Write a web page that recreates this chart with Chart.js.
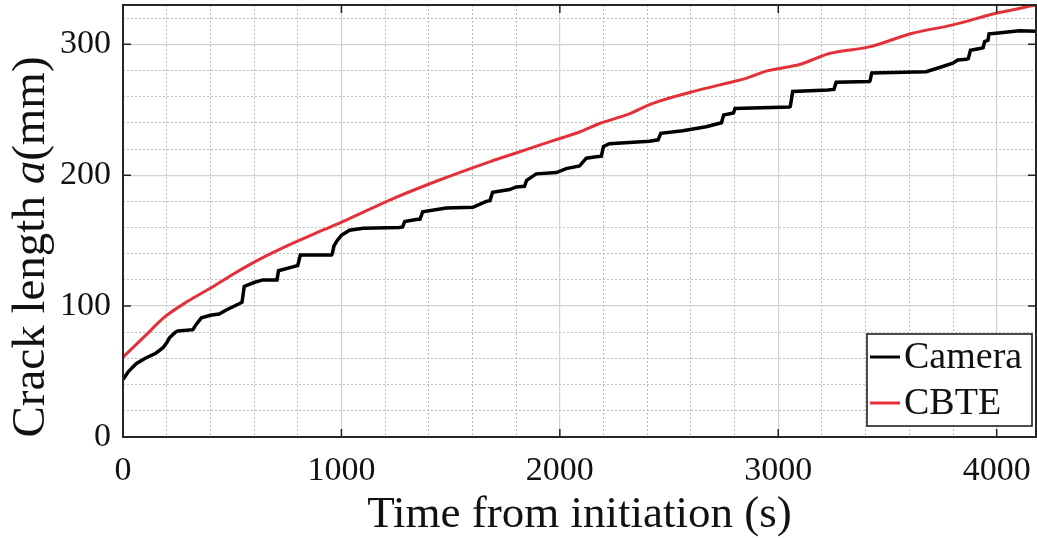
<!DOCTYPE html>
<html>
<head>
<meta charset="utf-8">
<script src="https://cdn.jsdelivr.net/npm/chart.js@4"></script>
<style>
  html, body { margin: 0; padding: 0; background: #fff; }
  #wrap { width: 1037px; height: 538px; position: relative; }
</style>
</head>
<body>
<div id="wrap"><canvas id="crack"></canvas></div>
<script>
// values
const cameraTime = [0, 25, 60, 100, 150, 182, 200, 214, 240, 251, 320, 335, 359, 400, 440, 473, 534, 545, 555, 600, 640, 705, 712, 777, 800, 812, 954, 958, 966, 980, 1000, 1037, 1100, 1266, 1280, 1290, 1335, 1360, 1372, 1480, 1602, 1663, 1680, 1692, 1770, 1800, 1838, 1848, 1892, 1984, 2029, 2090, 2121, 2167, 2190, 2200, 2227, 2410, 2450, 2462, 2563, 2670, 2740, 2750, 2795, 2802, 3051, 3055, 3066, 3227, 3255, 3265, 3417, 3420, 3428, 3677, 3753, 3799, 3822, 3860, 3870, 3880, 3929, 3938, 3945, 3960, 3965, 3997, 4104, 4180];
const cameraLength = [44, 50, 56, 60, 64, 68, 72, 76, 80, 81, 82, 86, 91, 93, 94, 97, 102, 103, 115, 118, 120, 120, 127, 130, 131, 139, 139, 140, 146, 150, 154, 158, 159.5, 160, 160.5, 164.5, 166, 166.5, 172, 175, 175.5, 180, 180.5, 187, 189, 191, 191.5, 196, 201, 202, 205, 207, 213, 214, 214.5, 222, 224, 226, 227, 232, 234, 237, 240, 246, 247.5, 251, 252, 252.5, 264, 265, 265.5, 271, 271.5, 272, 278, 279, 283, 285.5, 288, 288.5, 289, 295.5, 297, 297.5, 302, 303, 308, 308.5, 310.4, 310];

const cbteTime = [0, 50, 100, 191, 300, 397, 500, 603, 700, 809, 900, 1022, 1221, 1449, 1678, 1816, 1907, 2000, 2090, 2182, 2304, 2426, 2609, 2792, 2853, 2945, 3005, 3097, 3234, 3417, 3615, 3799, 3997, 4180];
const cbteLength = [61, 69, 77, 91.7, 104, 113.4, 124, 133.8, 142, 150.4, 157, 165.7, 181, 196.3, 210.2, 217.9, 223, 228, 233, 239.5, 246, 254.9, 263.8, 271.4, 274, 279.5, 281.5, 284.5, 293, 298, 308.4, 314.8, 323.7, 330];

const seriesNames = ['Camera', 'CBTE'];
const seriesColors = ['#000000', '#e3313a'];

const xTicks = [0, 1000, 2000, 3000, 4000];
const yTicks = [0, 100, 200, 300];
const xMinorTicks = [200, 400, 600, 800, 1200, 1400, 1600, 1800, 2200, 2400, 2600, 2800, 3200, 3400, 3600, 3800, 4200];
const yMinorTicks = [20, 40, 60, 80, 120, 140, 160, 180, 220, 240, 260, 280, 320];

const xMax = 4180;
const yMax = 330;

const serif = '"Liberation Serif", "DejaVu Serif", serif';

function pairs(xs, ys) {
  return xs.map((x, i) => ({ x: x, y: ys[i] }));
}

function setTicks(list) {
  return s => { s.ticks = list.map(v => ({ value: v })); };
}

function noPad(s) {
  s.paddingLeft = 0; s.paddingRight = 0; s.paddingTop = 0; s.paddingBottom = 0;
}

// frame, inward ticks, titles and boxed legend (Matlab look)
const decor = {
  id: 'decor',
  afterDraw(chart) {
    const ctx = chart.ctx;
    const a = chart.chartArea;
    const xs = chart.scales.x;
    const ys = chart.scales.y;
    ctx.save();

    // inward ticks on all four sides
    ctx.strokeStyle = '#222';
    ctx.lineWidth = 1.5;
    ctx.beginPath();
    xs.ticks.forEach(t => {
      const px = xs.getPixelForValue(t.value);
      ctx.moveTo(px, a.bottom); ctx.lineTo(px, a.bottom - 8);
      ctx.moveTo(px, a.top); ctx.lineTo(px, a.top + 8);
    });
    ys.ticks.forEach(t => {
      const py = ys.getPixelForValue(t.value);
      ctx.moveTo(a.left, py); ctx.lineTo(a.left + 8, py);
      ctx.moveTo(a.right, py); ctx.lineTo(a.right - 8, py);
    });
    ctx.stroke();

    // box
    ctx.lineWidth = 2;
    ctx.strokeStyle = '#262626';
    ctx.strokeRect(a.left, a.top, a.right - a.left, a.bottom - a.top);

    // x title
    ctx.fillStyle = '#111';
    ctx.font = '45px ' + serif;
    ctx.textAlign = 'center';
    ctx.textBaseline = 'alphabetic';
    ctx.fillText('Time from initiation (s)', (a.left + a.right) / 2, 527);

    // y title, with italic a
    ctx.translate(44, 247);
    ctx.rotate(-Math.PI / 2);
    const parts = [
      ['Crack length ', '47px ' + serif],
      ['a', 'italic 47px ' + serif],
      ['(mm)', '47px ' + serif]
    ];
    let total = 0;
    parts.forEach(p => { ctx.font = p[1]; total += ctx.measureText(p[0]).width; });
    let cx = -total / 2;
    ctx.textAlign = 'left';
    parts.forEach(p => {
      ctx.font = p[1];
      ctx.fillText(p[0], cx, 0);
      cx += ctx.measureText(p[0]).width;
    });
    ctx.restore();

    // legend
    ctx.save();
    const lx = 867, ly = 334, lw = 165, lh = 92;
    ctx.fillStyle = '#fff';
    ctx.fillRect(lx, ly, lw, lh);
    ctx.strokeStyle = '#111';
    ctx.lineWidth = 1.5;
    ctx.strokeRect(lx, ly, lw, lh);
    ctx.font = '38px ' + serif;
    ctx.textAlign = 'left';
    ctx.textBaseline = 'alphabetic';
    chart.data.datasets.forEach((ds, i) => {
      const yy = ly + 23 + i * 46;
      ctx.strokeStyle = ds.borderColor;
      ctx.lineWidth = 3;
      ctx.beginPath();
      ctx.moveTo(lx + 3, yy);
      ctx.lineTo(lx + 33, yy);
      ctx.stroke();
      ctx.fillStyle = '#111';
      ctx.fillText(ds.label, lx + 37, yy + 11);
    });
    ctx.restore();
  }
};

new Chart(document.getElementById('crack'), {
  type: 'scatter',
  data: {
    datasets: [
      {
        label: seriesNames[0],
        data: pairs(cameraTime, cameraLength),
        showLine: true,
        borderColor: seriesColors[0],
        borderWidth: 3.5,
        pointRadius: 0,
        tension: 0
      },
      {
        label: seriesNames[1],
        data: pairs(cbteTime, cbteLength),
        showLine: true,
        borderColor: seriesColors[1],
        borderWidth: 3,
        pointRadius: 0,
        cubicInterpolationMode: 'monotone'
      }
    ]
  },
  options: {
    responsive: true,
    maintainAspectRatio: false,
    animation: false,
    layout: { padding: { top: 5, right: 1, bottom: 0, left: 0 } },
    plugins: {
      legend: { display: false },
      tooltip: { enabled: false }
    },
    scales: {
      x: {
        type: 'linear',
        position: 'bottom',
        min: 0,
        max: xMax,
        afterBuildTicks: setTicks(xTicks),
        afterFit: s => { s.height = 101; noPad(s); },
        grid: { color: '#d2d2d2', lineWidth: 1.2, drawTicks: false },
        border: { display: false },
        ticks: {
          padding: 14,
          color: '#111',
          font: { family: serif, size: 34 },
          maxRotation: 0,
          autoSkip: false,
          callback: v => String(v)
        }
      },
      xMinor: {
        type: 'linear',
        position: 'bottom',
        min: 0,
        max: xMax,
        afterBuildTicks: setTicks(xMinorTicks),
        afterFit: s => { s.height = 0; noPad(s); },
        grid: { color: '#bdbdbd', lineWidth: 1, drawTicks: false },
        border: { display: false, dash: [2, 2] },
        ticks: { display: false }
      },
      y: {
        type: 'linear',
        position: 'left',
        min: 0,
        max: yMax,
        afterBuildTicks: setTicks(yTicks),
        afterFit: s => { s.width = 123; noPad(s); },
        grid: { color: '#d2d2d2', lineWidth: 1.2, drawTicks: false },
        border: { display: false },
        ticks: {
          padding: 12,
          color: '#111',
          font: { family: serif, size: 34 },
          autoSkip: false,
          callback: v => String(v)
        }
      },
      yMinor: {
        type: 'linear',
        position: 'left',
        min: 0,
        max: yMax,
        afterBuildTicks: setTicks(yMinorTicks),
        afterFit: s => { s.width = 0; noPad(s); },
        grid: { color: '#bdbdbd', lineWidth: 1, drawTicks: false },
        border: { display: false, dash: [2, 2] },
        ticks: { display: false }
      }
    }
  },
  plugins: [decor]
});
</script>
</body>
</html>
